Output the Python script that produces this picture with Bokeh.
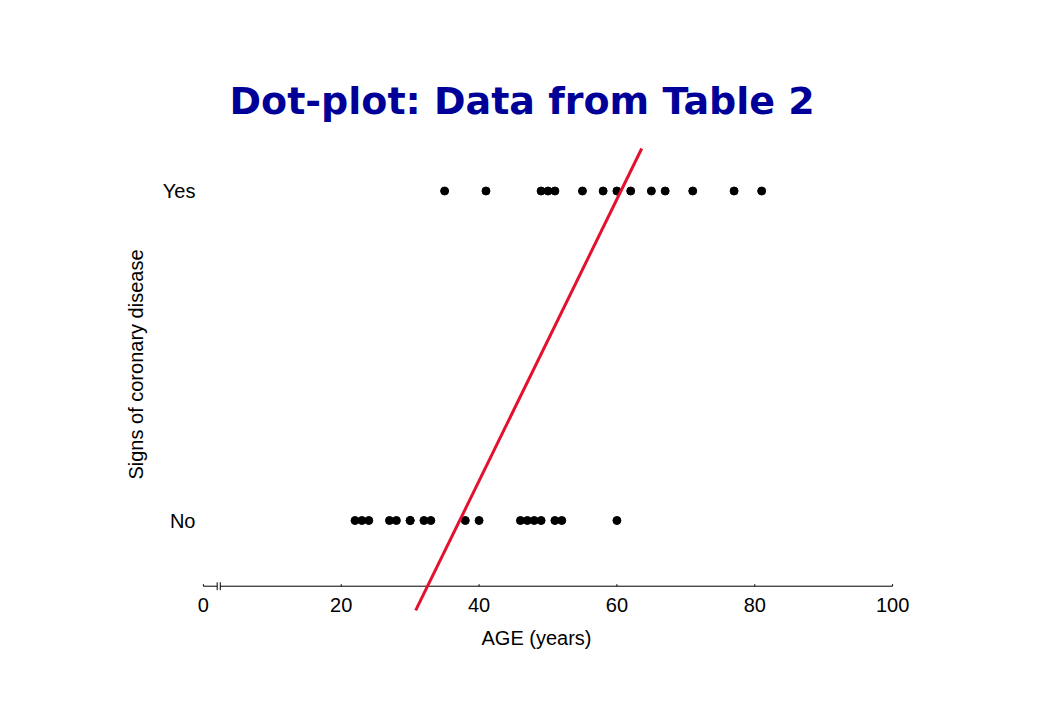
from bokeh.plotting import figure
from bokeh.models import Range1d, FixedTicker
from bokeh.embed import file_html
from bokeh.resources import INLINE

# ---- data ----
title_text = "Dot-plot: Data from Table 2"
x_label = "AGE (years)"
y_label = "Signs of coronary disease"
yes_ages = [35, 41, 49, 50, 51, 55, 58, 60, 62, 65, 67, 71, 77, 81]
no_ages = [22, 23, 24, 27, 28, 30, 30, 32, 33, 38, 40, 46, 47, 48, 49, 51, 52, 60]
outcome_codes = [0, 1]
outcome_labels = ["No", "Yes"]
x_ticks = [0, 20, 40, 60, 80, 100]
line_age = [30.8, 63.6]
line_outcome = [-0.273, 1.129]

# ---- layout constants ----
AXIS_Y = -0.1994
BREAK_X = [2.0, 2.45]
BREAK_H = 0.012
TICK_H = 0.006
TXT_FONT = "Liberation Sans"
TXT_SIZE = "20px"

p = figure(width=1024, height=704, output_backend="svg", toolbar_location=None,
           x_range=Range1d(-4.337, 101.0), y_range=Range1d(-0.2792, 1.2261),
           min_border_left=173, min_border_right=125,
           min_border_top=116, min_border_bottom=92,
           title=title_text)
p.outline_line_color = None
p.background_fill_color = "white"
p.border_fill_color = "white"
p.xgrid.visible = False
p.ygrid.visible = False

p.title.align = "left"
p.title.offset = 56
p.title.text_font = "DejaVu Sans"
p.title.text_font_style = "bold"
p.title.text_font_size = "38px"
p.title.text_color = "#000099"
p.title.standoff = -12

xa = p.xaxis[0]
xa.ticker = FixedTicker(ticks=x_ticks)
xa.axis_line_color = None
xa.major_tick_line_color = None
xa.minor_tick_line_color = None
xa.major_tick_in = 0
xa.major_tick_out = 0
xa.major_label_standoff = -15
xa.major_label_text_font = TXT_FONT
xa.major_label_text_font_size = TXT_SIZE
xa.major_label_text_color = "black"
xa.axis_label = x_label
xa.axis_label_text_font = TXT_FONT
xa.axis_label_text_font_size = TXT_SIZE
xa.axis_label_text_font_style = "normal"
xa.axis_label_text_color = "black"
xa.axis_label_standoff = 12

ya = p.yaxis[0]
ya.ticker = FixedTicker(ticks=outcome_codes)
ya.major_label_overrides = {c: l for c, l in zip(outcome_codes, outcome_labels)}
ya.axis_line_color = None
ya.major_tick_line_color = None
ya.minor_tick_line_color = None
ya.major_tick_in = 0
ya.major_tick_out = 0
ya.major_label_standoff = -22
ya.major_label_text_font = TXT_FONT
ya.major_label_text_font_size = TXT_SIZE
ya.major_label_text_color = "black"
ya.axis_label = y_label
ya.axis_label_text_font = TXT_FONT
ya.axis_label_text_font_size = TXT_SIZE
ya.axis_label_text_font_style = "normal"
ya.axis_label_text_color = "black"
ya.axis_label_standoff = 13

# axis line with break marker and small tick marks
p.segment(x0=[x_ticks[0], BREAK_X[1]], y0=[AXIS_Y, AXIS_Y],
          x1=[BREAK_X[0], x_ticks[-1]], y1=[AXIS_Y, AXIS_Y],
          line_color="black", line_width=1)
p.segment(x0=BREAK_X, y0=[AXIS_Y - BREAK_H] * 2, x1=BREAK_X, y1=[AXIS_Y + BREAK_H] * 2,
          line_color="black", line_width=1)
p.segment(x0=x_ticks, y0=[AXIS_Y] * len(x_ticks), x1=x_ticks,
          y1=[AXIS_Y + TICK_H] * len(x_ticks), line_color="black", line_width=1)

# dots
p.scatter(x=yes_ages, y=[outcome_codes[1]] * len(yes_ages), size=8,
          fill_color="black", line_color="black")
p.scatter(x=no_ages, y=[outcome_codes[0]] * len(no_ages), size=8,
          fill_color="black", line_color="black")

# red straight line
p.line(x=line_age, y=line_outcome, line_color="#e3102e", line_width=3)

open("out.html", "w").write(file_html(p, INLINE))
